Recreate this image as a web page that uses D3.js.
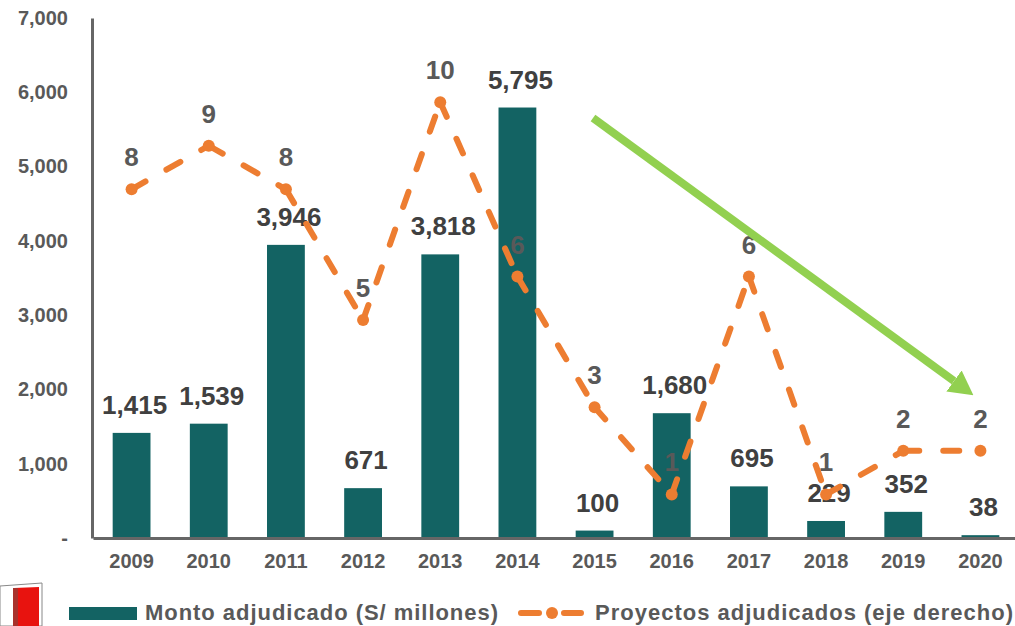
<!DOCTYPE html>
<html>
<head>
<meta charset="utf-8">
<script src="https://cdn.jsdelivr.net/npm/d3@7"></script>
<style>
    html, body { margin: 0; padding: 0; background: #fff; overflow: hidden; }
    text { font-family: "Liberation Sans", Arial, sans-serif; font-weight: bold; }
</style>
</head>
<body>
<svg id="chart" width="1015" height="626"></svg>
<script>
"use strict";

const years = ["2009", "2010", "2011", "2012", "2013", "2014", "2015", "2016", "2017", "2018", "2019", "2020"];
const monto = [1415, 1539, 3946, 671, 3818, 5795, 100, 1680, 695, 229, 352, 38];
const proyectos = [8, 9, 8, 5, 10, 6, 3, 1, 6, 1, 2, 2];
const leftTicks = [0, 1000, 2000, 3000, 4000, 5000, 6000, 7000];

const svg = d3.select("#chart");
const baseY = 538;

const x = d3.scaleBand().domain(years).range([93, 1019]).paddingInner(0.51).paddingOuter(0.255);
const yLeft = d3.scaleLinear().domain([0, 7000]).range([baseY, 18]);
const yRight = d3.scaleLinear().domain([0, 12]).range([baseY, 15]);
const cx = d => x(d) + x.bandwidth() / 2;

// bars
svg.append("g").selectAll("rect").data(years).join("rect")
    .attr("x", d => x(d))
    .attr("y", (d, i) => yLeft(monto[i]))
    .attr("width", x.bandwidth())
    .attr("height", (d, i) => baseY - yLeft(monto[i]))
    .attr("fill", "#136363");

// axes
const axisLeft = d3.axisLeft(yLeft).tickValues(leftTicks).tickSize(0).tickPadding(24)
    .tickFormat(d => d === 0 ? "-" : d3.format(",")(d));
const gLeft = svg.append("g").attr("transform", "translate(92,0)").call(axisLeft);
gLeft.select(".domain").attr("stroke", "#666").attr("stroke-width", 3);
gLeft.selectAll("text")
    .style("font-size", "20px")
    .attr("fill", "#595959");

const axisBottom = d3.axisBottom(x).tickSize(0).tickPadding(16);
const gBottom = svg.append("g").attr("transform", `translate(0,${baseY})`).call(axisBottom);
gBottom.select(".domain").attr("stroke", "#666").attr("stroke-width", 3);
gBottom.selectAll("text")
    .style("font-size", "20px")
    .attr("fill", "#595959");

// bar labels
svg.append("g").selectAll("text").data(years).join("text")
    .attr("x", d => cx(d) + 3)
    .attr("y", (d, i) => yLeft(monto[i]) - 19)
    .attr("text-anchor", "middle")
    .style("font-size", "26px")
    .attr("fill", "#404040")
    .text((d, i) => d3.format(",")(monto[i]));

// line labels
svg.append("g").selectAll("text").data(years).join("text")
    .attr("x", cx)
    .attr("y", (d, i) => yRight(proyectos[i]) - 23)
    .attr("text-anchor", "middle")
    .style("font-size", "26px")
    .attr("fill", "#595959")
    .text((d, i) => proyectos[i]);

// dashed line, dash pattern restarts at each point
const orange = "#ed7d31";
const gLine = svg.append("g");
gLine.selectAll("line").data(d3.pairs(years.map((d, i) => [cx(d), yRight(proyectos[i])]))).join("line")
    .attr("x1", d => d[0][0])
    .attr("y1", d => d[0][1])
    .attr("x2", d => d[1][0])
    .attr("y2", d => d[1][1])
    .attr("stroke", orange)
    .attr("stroke-width", 6)
    .attr("stroke-linecap", "round")
    .attr("stroke-dasharray", "16 24");
gLine.selectAll("circle").data(years).join("circle")
    .attr("cx", cx)
    .attr("cy", (d, i) => yRight(proyectos[i]))
    .attr("r", 6)
    .attr("fill", orange);

// green arrow
const green = "#92d050";
svg.append("defs").append("marker")
    .attr("id", "head")
    .attr("markerUnits", "userSpaceOnUse")
    .attr("viewBox", "0 0 24 26")
    .attr("refX", 0).attr("refY", 13)
    .attr("markerWidth", 24).attr("markerHeight", 26)
    .attr("orient", "auto")
    .append("path").attr("d", "M0,0 L24,13 L0,26 Z").attr("fill", green);
svg.append("line")
    .attr("x1", 593).attr("y1", 118)
    .attr("x2", 954).attr("y2", 381)
    .attr("stroke", green)
    .attr("stroke-width", 8)
    .attr("marker-end", "url(#head)");

// legend
const legendY = 613;
svg.append("rect").attr("x", 69).attr("y", 607).attr("width", 68).attr("height", 13).attr("fill", "#136363");
svg.append("text").attr("x", 145).attr("y", legendY + 7)
    .style("font-size", "22px").attr("fill", "#595959")
    .attr("textLength", 353)
    .text("Monto adjudicado (S/ millones)");
svg.append("line").attr("x1", 521).attr("x2", 581).attr("y1", legendY).attr("y2", legendY)
    .attr("stroke", orange).attr("stroke-width", 6).attr("stroke-linecap", "round")
    .attr("stroke-dasharray", "18 25");
svg.append("circle").attr("cx", 552).attr("cy", legendY).attr("r", 6).attr("fill", orange);
svg.append("text").attr("x", 595).attr("y", legendY + 7)
    .style("font-size", "22px").attr("fill", "#595959")
    .attr("textLength", 418)
    .text("Proyectos adjudicados (eje derecho)");

// small logo cut off at the bottom left corner
const logo = svg.append("g");
logo.append("path").attr("d", "M0,586 L42,583 L42,626 L0,626 Z").attr("fill", "#fff").attr("stroke", "#888").attr("stroke-width", 1);
logo.append("path").attr("d", "M14,588 L39,587 L39,626 L14,626 Z").attr("fill", "#e8130f");
logo.append("rect").attr("x", 13).attr("y", 588).attr("width", 5).attr("height", 38).attr("fill", "#a8322c");
</script>
</body>
</html>
